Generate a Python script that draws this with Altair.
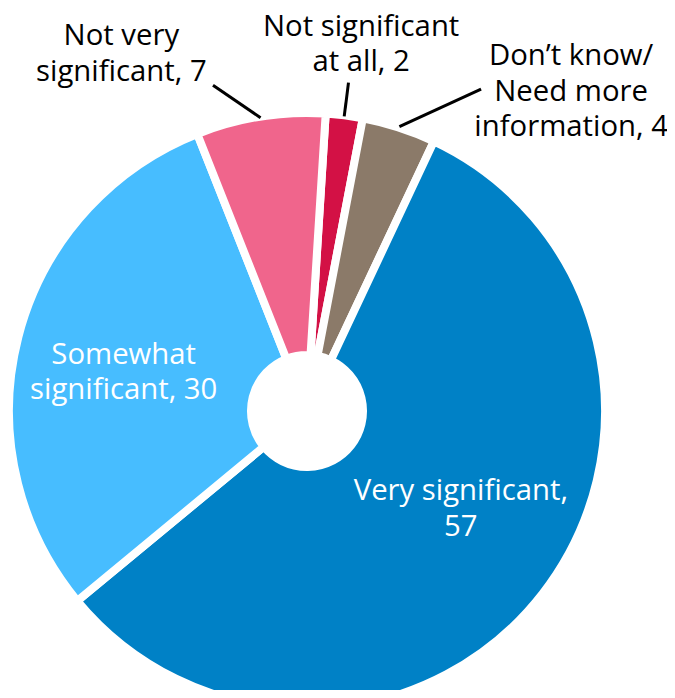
import altair as alt
import numpy as np
import pandas as pd

# ---- data (clockwise from the top) ----
categories = [
    "Not significant at all",
    "Don’t know/Need more information",
    "Very significant",
    "Somewhat significant",
    "Not very significant",
]
values = [2, 4, 57, 30, 7]
colors = ["#D31145", "#8B7A69", "#0081C6", "#47BDFF", "#F0658C"]
label_templates = [
    "Not significant\nat all, {v}",
    "Don’t know/\nNeed more\ninformation, {v}",
    "Very significant,\n{v}",
    "Somewhat\nsignificant, {v}",
    "Not very\nsignificant, {v}",
]
label_inside = [False, False, True, True, False]

# ---- layout (pixels / degrees) ----
CX, CY = 299, 403
R_OUT, R_IN = 298, 56
START_DEG = 3.6
# first-line anchor of each label: (angle offset from slice middle in degrees, radius in px)
LABEL_POLAR = [(0.8, 389), (18.6, 443), (-10.6, 173), (2.9, 192), (-17.3, 419)]
# leader lines: (start radius, end angle offset, end radius); None = no leader
LEADERS = [(297, 0.0, 331), (299, 10.4, 366), None, None, (297, -7.1, 339)]
FONT = "Open Sans"
FONT_SIZE = 29.3
LINE_HEIGHT = 35.5

total = float(sum(values))
df = pd.DataFrame({"cat": categories, "value": values, "k": range(len(values))})
df["mid"] = df["value"].cumsum() - df["value"] / 2.0
df["label"] = [t.format(v=v) for t, v in zip(label_templates, values)]
df["inside"] = label_inside
df["label_pct"] = [m + off / 360.0 * total for m, (off, r) in zip(df["mid"], LABEL_POLAR)]
df["label_r"] = [r for (off, r) in LABEL_POLAR]

rows = []
for m, ld in zip(df["mid"], LEADERS):
    if ld is None:
        continue
    r1, off, r2 = ld
    a1 = np.deg2rad(START_DEG + m / total * 360.0)
    a2 = np.deg2rad(START_DEG + m / total * 360.0 + off)
    rows.append({
        "x1": CX + r1 * np.sin(a1), "y1": CY - r1 * np.cos(a1),
        "x2": CX + r2 * np.sin(a2), "y2": CY - r2 * np.cos(a2),
    })
lead_df = pd.DataFrame(rows)

a0 = float(np.deg2rad(START_DEG))
theta_scale = alt.Scale(domain=[0, total], range=[a0, a0 + 2 * float(np.pi)])

arcs = alt.Chart(df).mark_arc(
    outerRadius=R_OUT, innerRadius=R_IN, stroke="white", strokeWidth=8
).encode(
    theta=alt.Theta("value:Q", stack=True, scale=theta_scale),
    order=alt.Order("k:Q"),
    color=alt.Color("cat:N", scale=alt.Scale(domain=categories, range=colors), legend=None),
    x=alt.value(CX),
    y=alt.value(CY),
)

def text_layer(inside, color):
    return alt.Chart(df).transform_filter(
        alt.datum.inside if inside else ~alt.datum.inside
    ).mark_text(
        font=FONT, fontSize=FONT_SIZE, fontWeight=500, lineBreak="\n", lineHeight=LINE_HEIGHT,
        align="center", baseline="middle", color=color, dy=1,
    ).encode(
        theta=alt.Theta("label_pct:Q", stack=False, scale=theta_scale),
        radius=alt.Radius("label_r:Q", scale=None),
        text="label:N",
        x=alt.value(CX),
        y=alt.value(CY),
    )

leaders = alt.Chart(lead_df).mark_rule(color="black", strokeWidth=3).encode(
    x=alt.X("x1:Q", scale=None),
    y=alt.Y("y1:Q", scale=None),
    x2="x2:Q",
    y2="y2:Q",
)

chart = alt.layer(arcs, leaders, text_layer(True, "white"), text_layer(False, "black")).properties(
    width=659, height=682, padding=0, autosize=alt.AutoSizeParams(type="none")
).configure_view(stroke=None)

chart.save("out.html", embed_options={"renderer": "svg", "actions": False})
